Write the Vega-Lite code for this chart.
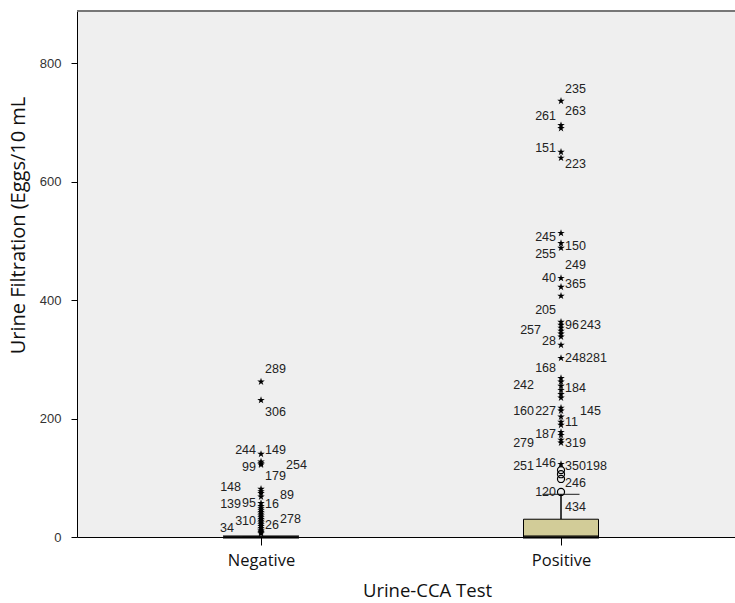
{
  "$schema": "https://vega.github.io/schema/vega-lite/v6.json",
  "width": 658,
  "height": 526,
  "autosize": {"type": "none"},
  "padding": {"left": 77, "top": 11, "right": 0, "bottom": 66},
  "background": "white",
  "config": {"view": {"fill": "#EFEFEF", "stroke": null}, "font": "Liberation Sans"},
  "datasets": {
    "boxData": [
      {"group": "Negative", "lower": 0, "q1": 0, "median": 0, "q3": 0, "upper": 0},
      {"group": "Positive", "lower": 0, "q1": 0, "median": 0, "q3": 30, "upper": 72}
    ],
    "extremes": [
      {"group": "Negative", "value": 262},
      {"group": "Negative", "value": 231},
      {"group": "Negative", "value": 140},
      {"group": "Negative", "value": 127},
      {"group": "Negative", "value": 124},
      {"group": "Negative", "value": 122},
      {"group": "Negative", "value": 81},
      {"group": "Negative", "value": 77},
      {"group": "Negative", "value": 74},
      {"group": "Negative", "value": 68},
      {"group": "Negative", "value": 57},
      {"group": "Negative", "value": 52},
      {"group": "Negative", "value": 48},
      {"group": "Negative", "value": 45},
      {"group": "Negative", "value": 42},
      {"group": "Negative", "value": 39},
      {"group": "Negative", "value": 36},
      {"group": "Negative", "value": 33},
      {"group": "Negative", "value": 30},
      {"group": "Negative", "value": 27},
      {"group": "Negative", "value": 24},
      {"group": "Negative", "value": 21},
      {"group": "Negative", "value": 18},
      {"group": "Negative", "value": 15},
      {"group": "Negative", "value": 12},
      {"group": "Negative", "value": 10},
      {"group": "Negative", "value": 8},
      {"group": "Negative", "value": 6},
      {"group": "Positive", "value": 736},
      {"group": "Positive", "value": 695},
      {"group": "Positive", "value": 690},
      {"group": "Positive", "value": 650},
      {"group": "Positive", "value": 640},
      {"group": "Positive", "value": 513},
      {"group": "Positive", "value": 496},
      {"group": "Positive", "value": 488},
      {"group": "Positive", "value": 437},
      {"group": "Positive", "value": 422},
      {"group": "Positive", "value": 407},
      {"group": "Positive", "value": 363},
      {"group": "Positive", "value": 358},
      {"group": "Positive", "value": 353},
      {"group": "Positive", "value": 348},
      {"group": "Positive", "value": 343},
      {"group": "Positive", "value": 338},
      {"group": "Positive", "value": 324},
      {"group": "Positive", "value": 302},
      {"group": "Positive", "value": 268},
      {"group": "Positive", "value": 262},
      {"group": "Positive", "value": 255},
      {"group": "Positive", "value": 248},
      {"group": "Positive", "value": 241},
      {"group": "Positive", "value": 235},
      {"group": "Positive", "value": 218},
      {"group": "Positive", "value": 213},
      {"group": "Positive", "value": 203},
      {"group": "Positive", "value": 194},
      {"group": "Positive", "value": 189},
      {"group": "Positive", "value": 177},
      {"group": "Positive", "value": 172},
      {"group": "Positive", "value": 164},
      {"group": "Positive", "value": 159},
      {"group": "Positive", "value": 123}
    ],
    "outliers": [
      {"group": "Positive", "value": 113},
      {"group": "Positive", "value": 106},
      {"group": "Positive", "value": 98},
      {"group": "Positive", "value": 76}
    ],
    "labelsL1": [
      {"group": "Negative", "label": "244", "value": 147},
      {"group": "Negative", "label": "99", "value": 118},
      {"group": "Negative", "label": "95", "value": 57},
      {"group": "Negative", "label": "310", "value": 27},
      {"group": "Positive", "label": "261", "value": 711},
      {"group": "Positive", "label": "151", "value": 657},
      {"group": "Positive", "label": "245", "value": 506},
      {"group": "Positive", "label": "255", "value": 478},
      {"group": "Positive", "label": "40", "value": 437},
      {"group": "Positive", "label": "205", "value": 383},
      {"group": "Positive", "label": "28", "value": 331},
      {"group": "Positive", "label": "168", "value": 285},
      {"group": "Positive", "label": "227", "value": 213},
      {"group": "Positive", "label": "187", "value": 174},
      {"group": "Positive", "label": "146", "value": 125},
      {"group": "Positive", "label": "120", "value": 76}
    ],
    "labelsL2": [
      {"group": "Negative", "label": "34", "value": 15},
      {"group": "Positive", "label": "242", "value": 257},
      {"group": "Positive", "label": "160", "value": 213},
      {"group": "Positive", "label": "279", "value": 159},
      {"group": "Positive", "label": "251", "value": 120}
    ],
    "labelsL3": [
      {"group": "Negative", "label": "148", "value": 84},
      {"group": "Negative", "label": "139", "value": 56},
      {"group": "Positive", "label": "257", "value": 349}
    ],
    "labelsR1": [
      {"group": "Negative", "label": "289", "value": 283},
      {"group": "Negative", "label": "306", "value": 211},
      {"group": "Negative", "label": "149", "value": 147},
      {"group": "Negative", "label": "179", "value": 103},
      {"group": "Negative", "label": "16", "value": 56},
      {"group": "Negative", "label": "26", "value": 20},
      {"group": "Positive", "label": "235", "value": 756},
      {"group": "Positive", "label": "263", "value": 719},
      {"group": "Positive", "label": "223", "value": 630},
      {"group": "Positive", "label": "150", "value": 491},
      {"group": "Positive", "label": "249", "value": 459},
      {"group": "Positive", "label": "365", "value": 427},
      {"group": "Positive", "label": "96", "value": 358},
      {"group": "Positive", "label": "248", "value": 302},
      {"group": "Positive", "label": "184", "value": 251},
      {"group": "Positive", "label": "11", "value": 194},
      {"group": "Positive", "label": "319", "value": 159},
      {"group": "Positive", "label": "350", "value": 120},
      {"group": "Positive", "label": "246", "value": 91},
      {"group": "Positive", "label": "434", "value": 51}
    ],
    "labelsR2": [
      {"group": "Negative", "label": "89", "value": 71},
      {"group": "Negative", "label": "278", "value": 30},
      {"group": "Positive", "label": "243", "value": 358},
      {"group": "Positive", "label": "145", "value": 213}
    ],
    "labelsR3": [
      {"group": "Negative", "label": "254", "value": 121},
      {"group": "Positive", "label": "281", "value": 302},
      {"group": "Positive", "label": "198", "value": 120}
    ],
    "frame": [{"top": 888}]
  },
  "encoding": {
    "x": {
      "field": "group",
      "type": "nominal",
      "scale": {"type": "point", "domain": ["Negative", "Positive"], "padding": 0.5967, "align": 0.514},
      "axis": {
        "title": "Urine-CCA Test",
        "orient": "bottom",
        "titleFont": "Open Sans",
        "titleFontSize": 18.5,
        "titleFontWeight": "normal",
        "titleColor": "#111",
        "titleX": 350,
        "titleY": 53,
        "titleBaseline": "middle",
        "titleAlign": "center",
        "labelFont": "Open Sans",
        "labelFontSize": 16.5,
        "labelColor": "#111",
        "labelAngle": 0,
        "labelPadding": 7,
        "tickSize": 8,
        "tickColor": "#000",
        "domainColor": "#000"
      }
    },
    "y": {
      "field": "value",
      "type": "quantitative",
      "scale": {"domain": [0, 888], "nice": false, "zero": true},
      "axis": {
        "title": "Urine Filtration (Eggs/10 mL",
        "values": [0, 200, 400, 600, 800],
        "grid": false,
        "titleFont": "Open Sans",
        "titleFontSize": 20,
        "titleFontWeight": "normal",
        "titleColor": "#111",
        "titleAngle": -90,
        "titleX": -59,
        "titleY": 214,
        "titleAlign": "center",
        "titleBaseline": "middle",
        "labelFont": "Liberation Sans",
        "labelFontSize": 13,
        "labelColor": "#333",
        "labelPadding": 10,
        "tickSize": 6,
        "tickColor": "#000",
        "domainColor": "#000"
      }
    }
  },
  "layer": [
    {
      "data": {"name": "boxData"},
      "mark": {"type": "rule", "color": "#000", "strokeWidth": 1.5},
      "encoding": {"y": {"field": "q3", "type": "quantitative"}, "y2": {"field": "upper"}}
    },
    {
      "data": {"name": "boxData"},
      "mark": {"type": "tick", "color": "#000", "size": 37, "thickness": 1.2, "orient": "horizontal"},
      "encoding": {"y": {"field": "upper", "type": "quantitative"}}
    },
    {
      "data": {"name": "boxData"},
      "mark": {"type": "bar", "fill": "#D2CC98", "stroke": "#000", "strokeWidth": 1, "size": 75},
      "encoding": {"y": {"field": "q1", "type": "quantitative"}, "y2": {"field": "q3"}}
    },
    {
      "data": {"name": "boxData"},
      "mark": {"type": "tick", "color": "#000", "size": 76, "thickness": 3.5, "orient": "horizontal"},
      "encoding": {"y": {"field": "median", "type": "quantitative"}}
    },
    {
      "data": {"name": "extremes"},
      "mark": {"type": "point", "shape": "M0,-1L0.2245,-0.309L0.951,-0.309L0.363,0.118L0.588,0.809L0,0.382L-0.588,0.809L-0.363,0.118L-0.951,-0.309L-0.2245,-0.309Z", "filled": true, "color": "#000", "size": 62, "opacity": 1}
    },
    {
      "data": {"name": "outliers"},
      "mark": {"type": "point", "shape": "circle", "filled": false, "stroke": "#000", "strokeWidth": 1.2, "size": 50, "opacity": 1}
    },
    {
      "data": {"name": "labelsL1"},
      "mark": {"type": "text", "align": "right", "baseline": "middle", "dx": -5, "font": "Liberation Sans", "fontSize": 12.5, "color": "#222"},
      "encoding": {"text": {"field": "label"}}
    },
    {
      "data": {"name": "labelsL2"},
      "mark": {"type": "text", "align": "right", "baseline": "middle", "dx": -27, "font": "Liberation Sans", "fontSize": 12.5, "color": "#222"},
      "encoding": {"text": {"field": "label"}}
    },
    {
      "data": {"name": "labelsL3"},
      "mark": {"type": "text", "align": "right", "baseline": "middle", "dx": -20, "font": "Liberation Sans", "fontSize": 12.5, "color": "#222"},
      "encoding": {"text": {"field": "label"}}
    },
    {
      "data": {"name": "labelsR1"},
      "mark": {"type": "text", "align": "left", "baseline": "middle", "dx": 4, "font": "Liberation Sans", "fontSize": 12.5, "color": "#222"},
      "encoding": {"text": {"field": "label"}}
    },
    {
      "data": {"name": "labelsR2"},
      "mark": {"type": "text", "align": "left", "baseline": "middle", "dx": 19, "font": "Liberation Sans", "fontSize": 12.5, "color": "#222"},
      "encoding": {"text": {"field": "label"}}
    },
    {
      "data": {"name": "labelsR3"},
      "mark": {"type": "text", "align": "left", "baseline": "middle", "dx": 25, "font": "Liberation Sans", "fontSize": 12.5, "color": "#222"},
      "encoding": {"text": {"field": "label"}}
    },
    {
      "data": {"name": "frame"},
      "mark": {"type": "rule", "color": "#777777", "strokeWidth": 2},
      "encoding": {"x": null, "y": {"field": "top", "type": "quantitative"}}
    }
  ]
}
